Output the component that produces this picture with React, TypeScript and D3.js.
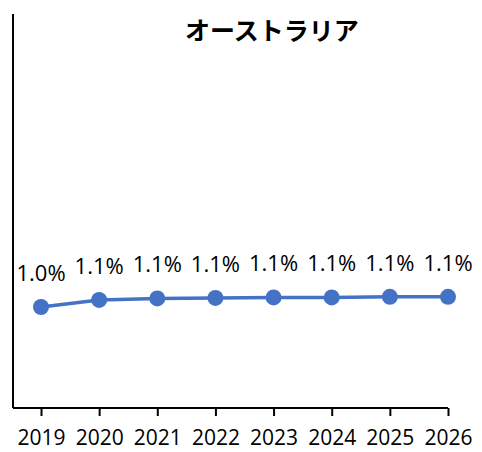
import { useRef, useEffect } from "react";
import * as d3 from "d3";

const title = "オーストラリア";
const years = ["2019", "2020", "2021", "2022", "2023", "2024", "2025", "2026"];
const values = [1.0, 1.07, 1.085, 1.09, 1.095, 1.095, 1.1, 1.1];

const App = () => {
  const svgRef = useRef<SVGSVGElement>(null);

  useEffect(() => {
    const w = 482;
    const h = 452;
    const svg = d3.select(svgRef.current)
      .attr("width", w)
      .attr("height", h)
      .style("position", "absolute")
      .style("left", "0px")
      .style("top", "0px");
    svg.selectAll("*").remove();

    const left = 13;
    const top = 14;
    const bottom = 408;

    // x positions on category centres
    const x = d3.scalePoint<string>()
      .domain(years)
      .range([41, 448]);

    const y = d3.scaleLinear()
      .domain([0, 3.9])
      .range([bottom, top]);

    // axes
    svg.append("line")
      .attr("x1", left).attr("x2", left)
      .attr("y1", top).attr("y2", bottom)
      .attr("stroke", "black").attr("stroke-width", 2);

    const xAxis = d3.axisBottom(x).tickSize(8).tickPadding(14).tickSizeOuter(0);
    const gx = svg.append("g")
      .attr("transform", `translate(0, ${bottom})`)
      .call(xAxis);
    gx.select(".domain")
      .attr("d", `M${left},0H${x(years[years.length - 1])}`)
      .attr("stroke", "black").attr("stroke-width", 2);
    gx.selectAll(".tick line").attr("stroke", "black").attr("stroke-width", 2);
    gx.selectAll(".tick text")
      .attr("font-family", "'Open Sans', 'Noto Sans', sans-serif")
      .attr("font-size", 21)
      .attr("fill", "black");

    // line
    const line = d3.line<number>()
      .x((_, i) => x(years[i])!)
      .y(d => y(d));

    svg.append("path")
      .datum(values)
      .attr("fill", "none")
      .attr("stroke", "#4472C4")
      .attr("stroke-width", 3.5)
      .attr("d", line);

    svg.selectAll("circle.pt")
      .data(values)
      .join("circle")
      .attr("class", "pt")
      .attr("cx", (_, i) => x(years[i])!)
      .attr("cy", d => y(d))
      .attr("r", 8)
      .attr("fill", "#4472C4");

    svg.selectAll("text.lbl")
      .data(values)
      .join("text")
      .attr("class", "lbl")
      .attr("x", (_, i) => x(years[i])!)
      .attr("y", d => y(d) - 32)
      .attr("text-anchor", "middle")
      .attr("dominant-baseline", "middle")
      .attr("font-family", "'Open Sans', 'Noto Sans', sans-serif")
      .attr("font-size", 22)
      .attr("fill", "black")
      .text(d => d.toFixed(1) + "%");

    svg.append("text")
      .attr("x", 272)
      .attr("y", 33)
      .attr("text-anchor", "middle")
      .attr("dominant-baseline", "middle")
      .attr("font-family", "'Noto Sans CJK JP', sans-serif")
      .attr("font-weight", "bold")
      .attr("font-size", 25)
      .attr("fill", "black")
      .text(title);
  }, []);

  return <svg ref={svgRef}></svg>;
};

export default App;
